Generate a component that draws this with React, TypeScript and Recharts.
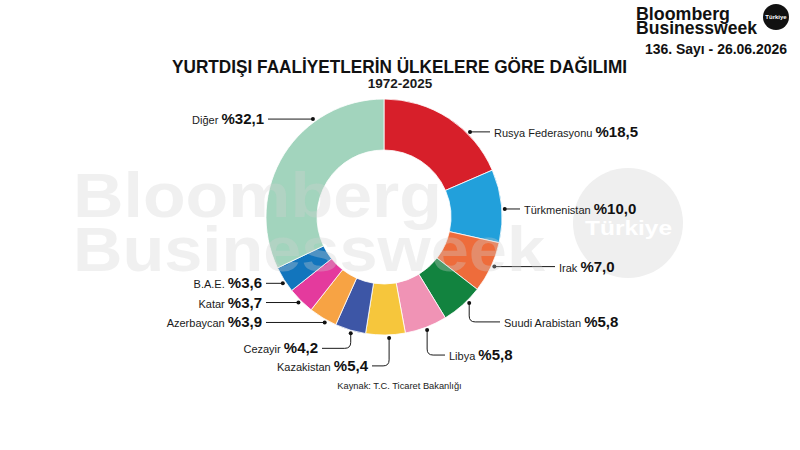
import React from 'react';
import { PieChart, Pie, Cell } from 'recharts';

const categories = [
  'Rusya Federasyonu',
  'Türkmenistan',
  'Irak',
  'Suudi Arabistan',
  'Libya',
  'Kazakistan',
  'Cezayir',
  'Azerbaycan',
  'Katar',
  'B.A.E.',
  'Diğer',
];
const shares = [18.5, 10.0, 7.0, 5.8, 5.8, 5.4, 4.2, 3.9, 3.7, 3.6, 32.1];
const colors = [
  '#d71f2a',
  '#22a0db',
  '#ee6c3b',
  '#12833f',
  '#f093b5',
  '#f6c63c',
  '#3d56a6',
  '#f7a344',
  '#e43a9d',
  '#1275bd',
  '#a2d4bd',
];

const title = 'YURTDIŞI FAALİYETLERİN ÜLKELERE GÖRE DAĞILIMI';
const subtitle = '1972-2025';
const source = 'Kaynak: T.C. Ticaret Bakanlığı';
const issue = '136. Sayı - 26.06.2026';

// label leader layout (style): angular shift of the dot, vertical drop, line end x relative to cx
const labelLayout = [
  { shift: 12, drop: 0, end: 106 },
  { shift: 1.6, drop: 0, end: 136 },
  { shift: -1, drop: 0, end: 171 },
  { shift: -3, drop: 19, end: 116 },
  { shift: 0, drop: 25, end: 61 },
  { shift: -1.7, drop: 28, end: -12 },
  { shift: -0.6, drop: 15, end: -62 },
  { shift: -1.8, drop: 0, end: -118 },
  { shift: 0.2, drop: 0, end: -118 },
  { shift: -1.2, drop: 0, end: -118 },
  { shift: 21.8, drop: 0, end: -116 },
];

const data = categories.map((name, i) => ({ name, value: shares[i] }));
const FONT = '"Liberation Sans", Arial, sans-serif';

const fmt = (v: number) => '%' + v.toFixed(1).replace('.', ',');

const renderLabel = (props: any) => {
  const { cx, cy, midAngle, outerRadius, index, value, name } = props;
  const lay = labelLayout[index];
  const cw = ((90 - midAngle + lay.shift) * Math.PI) / 180;
  const R = outerRadius + 3;
  const x0 = cx + R * Math.sin(cw);
  const y0 = cy - R * Math.cos(cw);
  const xe = cx + lay.end;
  const sign = xe > x0 ? 1 : -1;
  const yl = y0 + lay.drop;
  let d: string;
  if (lay.drop > 0) {
    const r = 6;
    d = `M${x0},${y0} V${yl - r} Q${x0},${yl} ${x0 + sign * r},${yl} H${xe}`;
  } else {
    d = `M${x0},${y0} H${xe}`;
  }
  const tx = xe + sign * 4;
  return (
    <g key={`lab-${index}`}>
      <path d={d} stroke="#1a1a1a" strokeWidth={1} fill="none" />
      <circle cx={x0} cy={y0} r={2} fill="#111" />
      <text
        x={tx}
        y={yl + 5}
        textAnchor={sign > 0 ? 'start' : 'end'}
        fontFamily={FONT}
        fill="#1a1a1a"
      >
        <tspan fontSize={11}>{name} </tspan>
        <tspan fontSize={15} fontWeight="bold" fill="#111">
          {fmt(value)}
        </tspan>
      </text>
    </g>
  );
};

export default function App() {
  return (
    <div
      style={{
        position: 'absolute',
        left: 0,
        top: 0,
        width: 800,
        height: 450,
        background: '#fff',
        overflow: 'hidden',
      }}
    >
      <svg width={800} height={450} style={{ position: 'absolute', left: 0, top: 0 }}>
        <circle cx={628} cy={223} r={55} fill="#efefef" />
        <text
          x={585}
          y={235}
          fontFamily={FONT}
          fontWeight="bold"
          fontSize={21}
          fill="#ffffff"
          textLength={87}
          lengthAdjust="spacingAndGlyphs"
        >
          Türkiye
        </text>
      </svg>
      <div style={{ position: 'absolute', left: 0, top: 0 }}>
        <PieChart width={800} height={450} margin={{ top: 0, right: 0, bottom: 0, left: 0 }}>
          <Pie
            data={data}
            dataKey="value"
            nameKey="name"
            cx={384}
            cy={217}
            innerRadius={67}
            outerRadius={118}
            startAngle={90}
            endAngle={-270}
            stroke="#ffffff"
            strokeWidth={0.8}
            isAnimationActive={false}
            labelLine={false}
            label={renderLabel}
          >
            {data.map((d, i) => (
              <Cell key={d.name} fill={colors[i]} />
            ))}
          </Pie>
        </PieChart>
      </div>
      <svg
        width={800}
        height={450}
        style={{ position: 'absolute', left: 0, top: 0, pointerEvents: 'none' }}
      >
        <g fontFamily={FONT} fontWeight="bold" fill="#cfcfcf" fillOpacity={0.32}>
          <text x={73} y={217} fontSize={63} textLength={369} lengthAdjust="spacingAndGlyphs">
            Bloomberg
          </text>
          <text x={73} y={271} fontSize={63} textLength={472} lengthAdjust="spacingAndGlyphs">
            Businessweek
          </text>
        </g>
        <g fontFamily={FONT} fontWeight="bold" fill="#111">
          <text x={636} y={20} fontSize={18} textLength={94} lengthAdjust="spacingAndGlyphs">
            Bloomberg
          </text>
          <text x={636} y={34} fontSize={18} textLength={121} lengthAdjust="spacingAndGlyphs">
            Businessweek
          </text>
          <circle cx={776} cy={17} r={13} fill="#111" />
          <text x={776} y={19} fontSize={6} fill="#fff" textAnchor="middle">
            Türkiye
          </text>
          <text x={645} y={54} fontSize={14.5} textLength={142} lengthAdjust="spacingAndGlyphs">
            {issue}
          </text>
          <text x={172} y={73} fontSize={19} textLength={455} lengthAdjust="spacingAndGlyphs">
            {title}
          </text>
          <text x={400} y={88} fontSize={13.5} textAnchor="middle" fill="#1a1a1a">
            {subtitle}
          </text>
        </g>
        <text x={399.5} y={389} fontFamily={FONT} fontSize={9.3} textAnchor="middle" fill="#222">
          {source}
        </text>
      </svg>
    </div>
  );
}
